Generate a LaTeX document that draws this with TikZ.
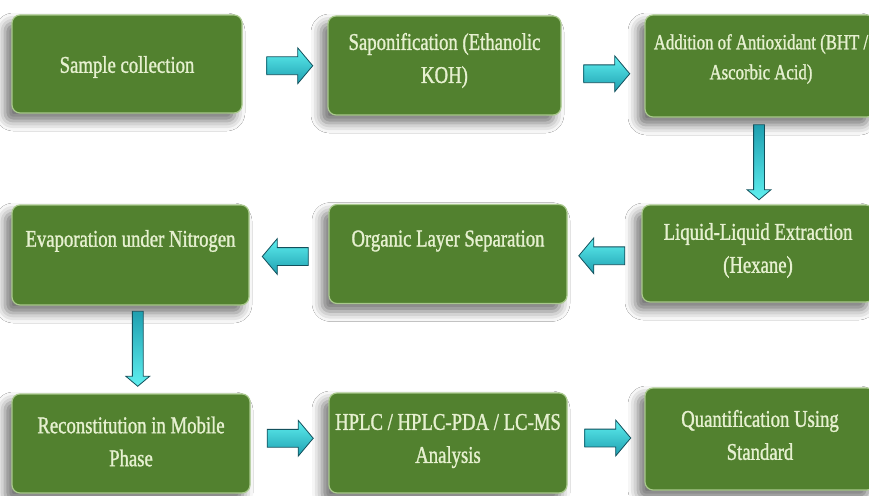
\documentclass[tikz,border=0pt]{standalone}
\usepackage{fontspec}
\setmainfont{Liberation Serif}[FakeStretch=0.78,FakeBold=1.2]
\usetikzlibrary{shapes.arrows,shadows.blur,calc}
\definecolor{boxgreen}{HTML}{52812F}
\definecolor{boxedge}{HTML}{A9C98C}
\definecolor{txtcol}{HTML}{E6F0D0}
\definecolor{arrtop}{HTML}{5FF0F0}
\definecolor{arrbot}{HTML}{1E9FB0}
\definecolor{arredge}{HTML}{13505C}
\tikzset{
  stepbox/.style={draw=boxedge, line width=1.2pt, fill=boxgreen, rounded corners=8pt,
    blur shadow={shadow xshift=-7pt, shadow yshift=-8pt, shadow blur radius=10pt, shadow opacity=55}},
  txt/.style={text=txtcol, align=center, font=\fontsize{24}{33}\selectfont, inner sep=0pt},
  harr/.style={single arrow, draw=arredge, line width=0.8pt, top color=arrtop, bottom color=arrbot,
    minimum height=46pt, minimum width=35pt, single arrow head extend=9pt,
    inner xsep=0pt, inner ysep=8.5pt, single arrow tip angle=100},
  varr/.style={single arrow, draw=arredge, line width=0.8pt, bottom color=arrtop, top color=arrbot,
    minimum height=75pt, minimum width=23pt, single arrow head extend=6.5pt,
    inner xsep=0pt, inner ysep=5pt, single arrow tip angle=100, rotate=-90},
}
\begin{document}
\begin{tikzpicture}[x=1pt,y=-1pt]
\useasboundingbox (0,0) rectangle (869,495);
\fill[white] (0,0) rectangle (869,495);
\clip (0,0) rectangle (869,495);
% boxes
\node[stepbox, minimum width=230pt, minimum height=98pt] (b1) at (127,64) {};
\node[stepbox, minimum width=233pt, minimum height=99pt] (b2) at (444.5,65.5) {};
\node[stepbox, minimum width=230pt, minimum height=102pt] (b3) at (760,66) {};
\node[stepbox, minimum width=237pt, minimum height=100pt] (b4) at (130.5,255) {};
\node[stepbox, minimum width=238pt, minimum height=99pt] (b5) at (448,254) {};
\node[stepbox, minimum width=232pt, minimum height=97pt] (b6) at (758,253.5) {};
\node[stepbox, minimum width=238pt, minimum height=99pt] (b7) at (131,443.5) {};
\node[stepbox, minimum width=238pt, minimum height=100pt] (b8) at (448,443) {};
\node[stepbox, minimum width=230pt, minimum height=102pt] (b9) at (760,439) {};
% texts
\node[txt] (t1) at ([yshift=-3pt]b1.center) {Sample collection};
\node[txt] (t2) at ([yshift=5pt]b2.center) {Saponification (Ethanolic\\KOH)};
\node[txt, font=\fontsize{21.5}{30}\selectfont] (t3) at ([yshift=7pt,xshift=1pt]b3.center) {Addition of Antioxidant (BHT /\\Ascorbic Acid)};
\node[txt] (t4) at ([yshift=14pt]b4.center) {Evaporation under Nitrogen};
\node[txt] (t5) at ([yshift=13pt]b5.center) {Organic Layer Separation};
\node[txt] (t6) at ([yshift=3pt]b6.center) {Liquid-Liquid Extraction\\(Hexane)};
\node[txt] (t7) at ([yshift=2pt]b7.center) {Reconstitution in Mobile\\Phase};
\node[txt] (t8) at ([yshift=2pt]b8.center) {HPLC / HPLC-PDA / LC-MS\\Analysis};
\node[txt] (t9) at ([yshift=4pt]b9.center) {Quantification Using\\Standard};
% arrows
\node[harr] (a1) at ($(b1.east)!0.5!(b2.west)+(1,1)$) {};
\node[harr] (a2) at ($(b2.east)!0.5!(b3.west)+(0,8)$) {};
\node[varr] (a3) at ($(b3.south)!0.5!(b6.north)+(0,-1)$) {};
\node[harr, shape border rotate=180] (a4) at ($(b6.west)!0.5!(b5.east)+(1,2)$) {};
\node[harr, shape border rotate=180] (a5) at ($(b5.west)!0.5!(b4.east)+(0,2)$) {};
\node[varr] (a6) at ($(b4.south)!0.5!(b7.north)+(7,-3)$) {};
\node[harr] (a7) at ($(b7.east)!0.5!(b8.west)+(-3,-5)$) {};
\node[harr] (a8) at ($(b8.east)!0.5!(b9.west)+(-2,-3)$) {};
\end{tikzpicture}
\end{document}
